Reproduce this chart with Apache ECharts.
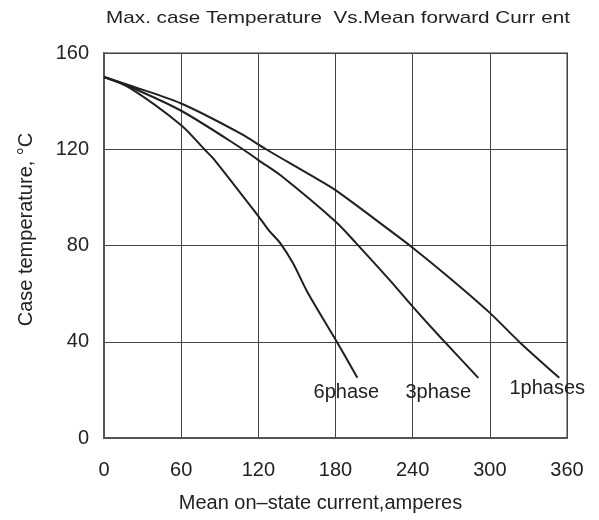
<!DOCTYPE html>
<html><head><meta charset="utf-8">
<script src="https://cdn.jsdelivr.net/npm/echarts@6/dist/echarts.min.js"></script>
<style>html,body{margin:0;padding:0;background:#fff}#c{width:599px;height:520px}</style>
</head><body><div id="c"></div>
<script>
var titleText = 'Max. case Temperature  Vs.Mean forward Curr ent';
var xTicks = [0, 60, 120, 180, 240, 300, 360];
var yTicks = [0, 40, 80, 120, 160];
var seriesNames = ['1phases', '3phase', '6phase'];
var phase1 = [[0,150],[20,146.5],[60,139],[106,126.6],[126,120],[163,108.5],[180,103],[222,86.4],[239,79.5],[269,66.4],[300,52],[324,39.4],[354,25]];
var phase3 = [[0,150],[20,146],[60,136],[108,120],[120,115.5],[137,109.3],[180,90],[196,81],[222,65.7],[240,54.6],[261,42.2],[291,25]];
var phase6 = [[0,150],[20,145.5],[60,130],[78,120],[86,115.5],[121,91.5],[128,86.4],[137,81],[147,72.6],[158,60.8],[181,40],[197,25]];

var font = 'Liberation Sans, Arial, sans-serif';
var labelOffsets = [[-12, 11], [-40, 15], [-11, 15]];
var all = [phase1, phase3, phase6];
var chart = echarts.init(document.getElementById('c'), null, { renderer: 'canvas' });
chart.setOption({
  animation: false,
  backgroundColor: '#fff',
  graphic: [{ type: 'text', x: 338, y: 18.5, scaleX: 1.215, silent: true,
    style: { text: titleText, fontSize: 17, fontFamily: font, fill: '#222', textAlign: 'center', textVerticalAlign: 'middle' } }],
  grid: { left: 104, right: 32, top: 53, bottom: 82, show: true, borderColor: '#999', borderWidth: 2 },
  xAxis: { type: 'value', min: xTicks[0], max: xTicks[xTicks.length - 1], interval: xTicks[1] - xTicks[0],
    name: 'Mean on\u2013state current,amperes', nameLocation: 'middle', nameGap: 55,
    nameTextStyle: { fontSize: 20, color: '#222', fontFamily: font, padding: [0, 30, 0, 0] },
    axisLine: { lineStyle: { color: '#555', width: 2 } },
    axisTick: { show: false },
    axisLabel: { fontSize: 20, color: '#222', fontFamily: font, margin: 22 },
    splitLine: { lineStyle: { color: '#444', width: 1 } } },
  yAxis: { type: 'value', min: yTicks[0], max: yTicks[yTicks.length - 1], interval: yTicks[1] - yTicks[0],
    name: 'Case temperature, \u00B0C', nameLocation: 'middle', nameGap: 68,
    nameTextStyle: { fontSize: 20, color: '#222', fontFamily: font, padding: [0, 0, 0, 32] },
    axisLine: { show: true, lineStyle: { color: '#555', width: 2 } },
    axisTick: { show: false },
    axisLabel: { fontSize: 20, color: '#222', fontFamily: font, margin: 15 },
    splitLine: { lineStyle: { color: '#444', width: 1 } } },
  series: all.map(function (d, i) {
    return { name: seriesNames[i], type: 'line', smooth: 0.3, showSymbol: false, symbol: 'none',
      lineStyle: { color: '#231f20', width: 2 }, data: d, z: 5,
      markPoint: { symbol: 'circle', symbolSize: 0, silent: true, animation: false,
        data: [{ coord: d[d.length - 1],
          label: { show: true, formatter: seriesNames[i], position: 'inside', offset: labelOffsets[i],
            fontSize: 20, color: '#222', fontFamily: font } }] } };
  })
});
</script></body></html>
